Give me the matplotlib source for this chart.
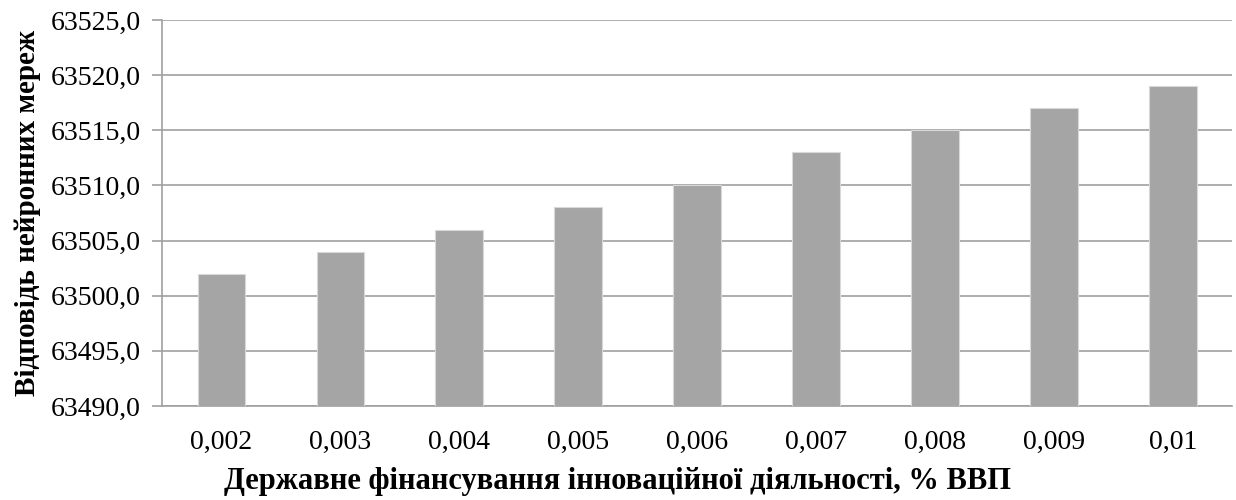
import matplotlib.pyplot as plt
from matplotlib.ticker import FuncFormatter

# Data
categories = ['0,002', '0,003', '0,004', '0,005', '0,006', '0,007', '0,008', '0,009', '0,01']
values = [63502, 63504, 63506, 63508, 63510, 63513, 63515, 63517, 63519]

plt.rcParams['font.family'] = ['Liberation Serif', 'DejaVu Serif']

fig = plt.figure(figsize=(12.36, 5.0), dpi=100)
ax = fig.add_axes([0.131, 0.188, 0.866, 0.772])

x = range(len(categories))
ax.bar(x, values, width=0.4, color='#A5A5A5', edgecolor='#D9D9D9', linewidth=0.8, zorder=3)

ax.set_xlim(-0.5, len(categories) - 0.5)
ax.set_ylim(63490, 63525)
ax.set_yticks(range(63490, 63526, 5))
ax.yaxis.set_major_formatter(FuncFormatter(lambda v, p: f'{v:.1f}'.replace('.', ',')))
ax.set_xticks(list(x))
ax.set_xticklabels(categories)

ax.grid(axis='y', color='#A0A0A0', linewidth=1.2, zorder=0)
for s in ['top', 'right']:
    ax.spines[s].set_visible(False)
ax.spines['left'].set_color('#A0A0A0')
ax.spines['bottom'].set_color('#A0A0A0')
ax.spines['left'].set_linewidth(1.2)
ax.spines['bottom'].set_linewidth(1.2)

ax.tick_params(axis='y', length=7, color='#A0A0A0', width=1.2, labelsize=20, pad=8)
ax.tick_params(axis='x', length=0, labelsize=20, pad=17)

# x label is centred on the figure, not the axes
fig.text(0.5, 0.036, 'Державне фінансування інноваційної діяльності, % ВВП',
         fontsize=22, fontweight='bold', ha='center', va='center')
ax.set_ylabel('Відповідь нейронних мереж', fontsize=21, fontweight='bold', labelpad=7)

fig.savefig('out.png', dpi=100, facecolor='white')
